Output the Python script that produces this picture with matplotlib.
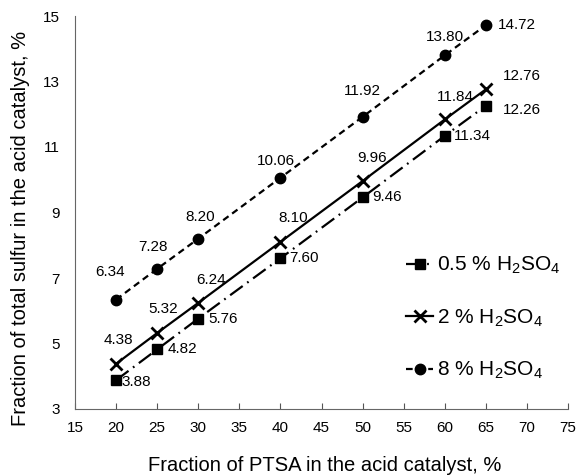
import matplotlib
matplotlib.use("Agg")
import matplotlib.pyplot as plt

plt.rcParams['font.family'] = ['Liberation Sans', 'DejaVu Sans']
plt.rcParams['mathtext.fontset'] = 'custom'
plt.rcParams['mathtext.rm'] = 'Liberation Sans'
plt.rcParams['mathtext.it'] = 'Liberation Sans'
plt.rcParams['mathtext.default'] = 'regular'

x = [20, 25, 30, 40, 50, 60, 65]
s05 = [3.88, 4.82, 5.76, 7.60, 9.46, 11.34, 12.26]
s2 = [4.38, 5.32, 6.24, 8.10, 9.96, 11.84, 12.76]
s8 = [6.34, 7.28, 8.20, 10.06, 11.92, 13.80, 14.72]
labels = ["0.5 % H$_2$SO$_4$", "2 % H$_2$SO$_4$", "8 % H$_2$SO$_4$"]
xticks = [15, 20, 25, 30, 35, 40, 45, 50, 55, 60, 65, 70, 75]
yticks = [3, 5, 7, 9, 11, 13, 15]

# label offsets in pixels (dx, dy, ha)
off05 = [(5, -2, 'left'), (10, 0, 'left'), (10, 0, 'left'), (9, 0, 'left'),
         (10, 0, 'left'), (9, 0, 'left'), (17, -4, 'left')]
off2 = [(2, 24, 'center'), (6, 24, 'center'), (13, 23, 'center'), (13, 24, 'center'),
        (9, 23, 'center'), (11, 22, 'center'), (36, 13, 'center')]
off8 = [(-6, 28, 'center'), (-4, 22, 'center'), (2, 22, 'center'), (-4, 17, 'center'),
        (0, 26, 'center'), (0, 18, 'center'), (12, 0, 'left')]

fig = plt.figure(figsize=(5.78, 4.76), dpi=100)
ax = fig.add_axes([75/578, 1 - 409/476, 493/578, 393/476])

ax.plot(x, s05, color='black', lw=1.6, linestyle=(0, (7, 2.5, 0.8, 2.5)),
        marker='s', ms=6.5, label=labels[0])
ax.plot(x, s2, color='black', lw=1.6, linestyle='-',
        marker='x', ms=8.5, mew=2, label=labels[1])
ax.plot(x, s8, color='black', lw=1.6, linestyle=(0, (3, 2)),
        marker='o', ms=7.5, label=labels[2])

for series, offs in ((s05, off05), (s2, off2), (s8, off8)):
    for xi, yi, (dx, dy, ha) in zip(x, series, offs):
        ax.annotate(f"{yi:.2f}", (xi, yi), xytext=(dx, dy), textcoords='offset pixels',
                    ha=ha, va='center', fontsize=11, color='black')

ax.set_xlim(15, 75)
ax.set_ylim(3, 15)
ax.set_xticks(xticks)
ax.set_yticks(yticks)
ax.tick_params(axis='x', direction='in', length=4, width=0.8, colors='#555555',
               labelcolor='black', labelsize=11, pad=9)
ax.tick_params(axis='y', length=0, labelsize=11, pad=11)
for s in ('top', 'right'):
    ax.spines[s].set_visible(False)
for s in ('left', 'bottom'):
    ax.spines[s].set_color('#666666')
    ax.spines[s].set_linewidth(0.8)

ax.set_xlabel("Fraction of PTSA in the acid catalyst, %", fontsize=14.5)
ax.set_ylabel("Fraction of total sulfur in the acid catalyst, %", fontsize=14.5)
ax.xaxis.set_label_coords((325 - 75) / 493, (409 - 456) / 393)
ax.yaxis.set_label_coords((30 - 75) / 493, (409 - 228) / 393)

leg = ax.legend(loc='upper left', bbox_to_anchor=((406 - 75) / 493, (409 - 255) / 393),
                frameon=False, fontsize=15, handlelength=1.3, handletextpad=0.2,
                labelspacing=1.5, borderaxespad=0, borderpad=0)

fig.savefig("out.png", dpi=100)
